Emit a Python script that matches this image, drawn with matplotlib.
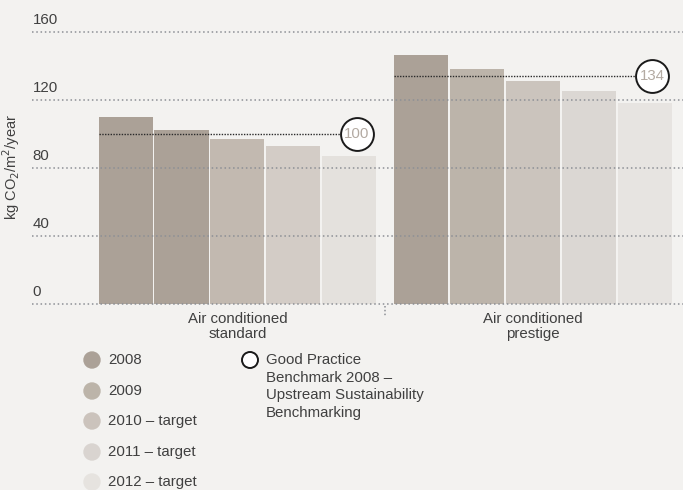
import matplotlib
matplotlib.use('Agg')
import matplotlib.pyplot as plt
import numpy as np

plt.rcParams['font.family'] = ['Liberation Sans', 'DejaVu Sans']

groups = ['Air conditioned\nstandard', 'Air conditioned\nprestige']
series = ['2008', '2009', '2010 \u2013 target', '2011 \u2013 target', '2012 \u2013 target']
standard = [110, 102, 97, 93, 87]
prestige = [146, 138, 131, 125, 118]
benchmarks = [100, 134]
yticks = [0, 40, 80, 120, 160]
bench_label = 'Good Practice\nBenchmark 2008 \u2013\nUpstream Sustainability\nBenchmarking'

legend_colors = ['#aba197', '#bcb4a9', '#cbc3bc', '#d9d4d0', '#e6e3df']
bar_colors = [['#aba197', '#aba197', '#c2b9b0', '#d3ccc6', '#e4e1dd'],
              ['#aba197', '#bcb4aa', '#cbc4bd', '#dbd7d3', '#e7e4e1']]
bg = '#f3f2f0'
txt = '#404040'
fs = 10.8

fig = plt.figure(figsize=(6.83, 4.9), dpi=100, facecolor=bg)
ax = fig.add_axes([32/683, (490-303.7)/490, 651/683, 272/490])
ax.set_facecolor(bg)

step = 0.189
width = 0.183
x = np.arange(len(groups))
for i, vals in enumerate([standard, prestige]):
    for j, v in enumerate(vals):
        ax.bar(x[i] + (j - 2) * step, v, width, color=bar_colors[i][j], zorder=2)

ax.set_xlim(-0.695, 1.508)
ax.set_ylim(0, 160)
for s in ax.spines.values():
    s.set_visible(False)
ax.set_xticks([])
ax.set_yticks([])

# dotted gridlines on top of the bars
for t in yticks:
    ax.axhline(t, color='#8c8f95', lw=1.1, ls=(0, (1, 1.8)), zorder=3, clip_on=False)
    ax.annotate(str(t), (0, t), xycoords=('axes fraction', 'data'), xytext=(0.5, 3.2),
                textcoords='offset points', va='bottom', ha='left', fontsize=fs, color=txt)

# benchmark markers
for i, b in enumerate(benchmarks):
    x0 = x[i] - 2 * step - width / 2
    xc = x[i] + 0.404
    ax.plot([x0, xc], [b, b], color='#2a2a2a', lw=1, ls=(0, (1, 1)), zorder=4)
    ax.scatter([xc], [b], s=560, facecolor='white', edgecolor='#1a1a1a', lw=1.4, zorder=5, clip_on=False)
    ax.text(xc, b, str(b), ha='center', va='center', fontsize=fs, color='#b3aaa2', zorder=6)

# group labels and divider
for i, g in enumerate(groups):
    ax.text(x[i], -5.0, g, ha='center', va='top', fontsize=fs, color=txt, linespacing=1.06)
ax.plot([0.5, 0.5], [-1.5, -7.5], color='#8c8f95', lw=1.1, ls=(0, (1, 1.5)), clip_on=False)

fig.text(11/683, 1 - 167/490, 'kg CO$_2$/m$^2$/year', rotation=90, ha='center', va='center',
         fontsize=10.5, color=txt)

# legend
ys = [360, 391, 421, 452, 482]
for c, lab, yy in zip(legend_colors, series, ys):
    fig.patches.append(matplotlib.patches.Ellipse((92/683, 1 - yy/490), 16/683, 16/490,
                                                   transform=fig.transFigure, color=c))
    fig.text(108/683, 1 - yy/490, lab, ha='left', va='center', fontsize=fs, color=txt)
fig.patches.append(matplotlib.patches.Ellipse((250/683, 1 - 360/490), 16/683, 16/490,
                                               transform=fig.transFigure, facecolor='white',
                                               edgecolor='#1a1a1a', lw=1.4))
fig.text(266/683, 1 - 353/490, bench_label, ha='left', va='top', fontsize=fs, color=txt,
         linespacing=1.32)

fig.savefig('out.png', dpi=100, facecolor=bg)
